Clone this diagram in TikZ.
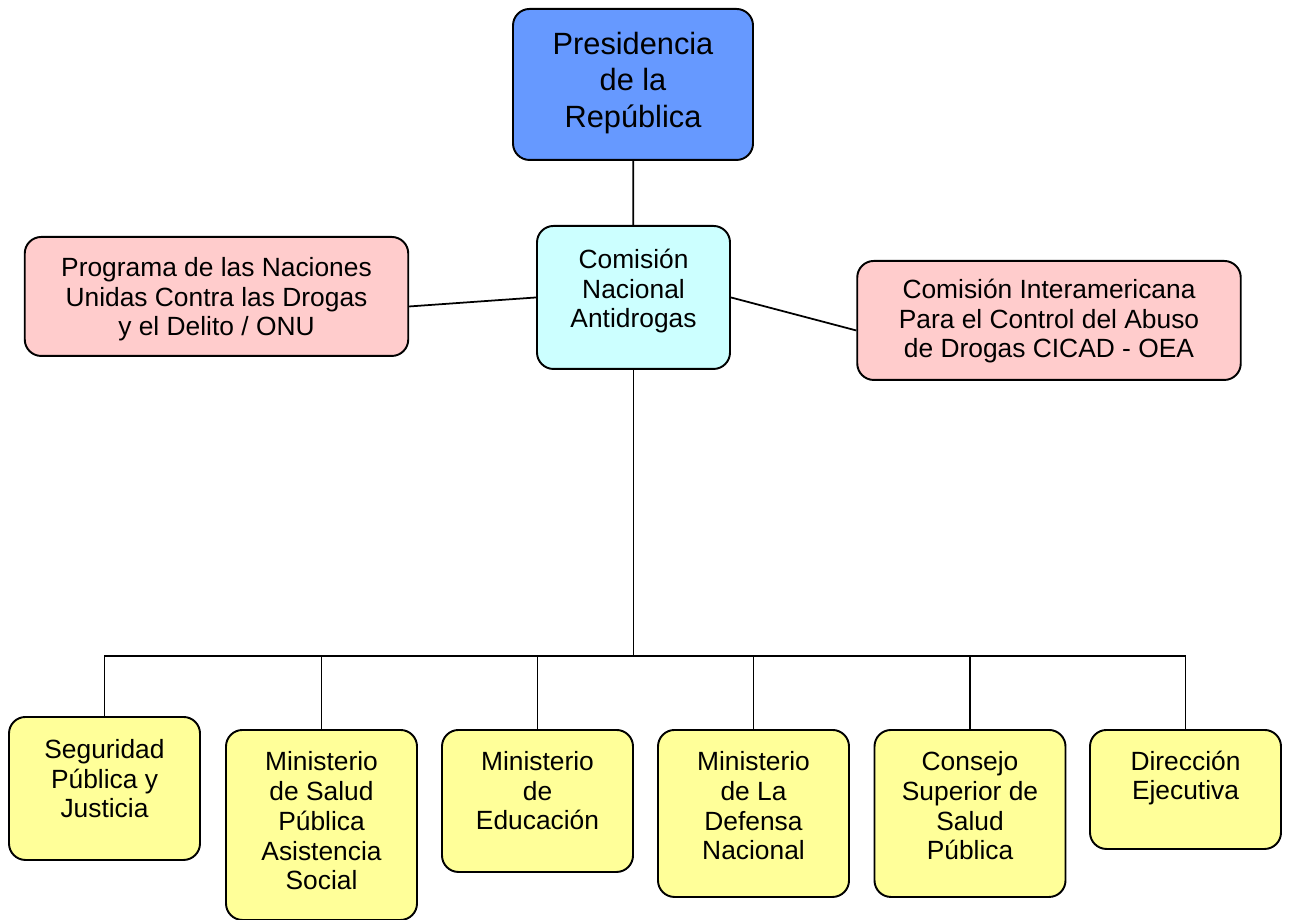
\documentclass[tikz,border=0pt]{standalone}
\usepackage{fontspec}
\setmainfont{Liberation Sans}
\usepackage{tikz}
\usetikzlibrary{positioning,calc}
\definecolor{presfill}{HTML}{6699FF}
\definecolor{cnafill}{HTML}{CCFFFF}
\definecolor{intfill}{HTML}{FFCCCC}
\definecolor{minfill}{HTML}{FFFF99}
\definecolor{ink}{HTML}{000000}

\begin{document}
\begin{tikzpicture}[
  font=\fontsize{15}{17}\selectfont,
  box/.style={draw=ink,line width=1.1pt,rounded corners=0.33cm,align=center,anchor=north,inner ysep=0pt,inner xsep=2pt},
  pres/.style={box,fill=presfill,minimum width=4.8cm,font=\fontsize{17.5}{20.9}\selectfont},
  cna/.style={box,fill=cnafill,minimum width=3.86cm},
  intl/.style={box,fill=intfill,minimum width=7.67cm},
  min/.style={box,fill=minfill,minimum width=3.82cm},
  link/.style={draw=ink,line width=1pt}]
  \useasboundingbox (0,0) rectangle (25.78,-18.4);
  \node[pres,text height=2.37cm,text depth=0.65cm] (rep) at (12.66,-0.16) {Presidencia\\de la\\República};
  \node[cna,text height=2.04cm,text depth=0.82cm] (cna) at (12.67,-4.5) {Comisión\\Nacional\\Antidrogas};
  \node[intl,text height=1.98cm,text depth=0.40cm] (onu) at (4.33,-4.72) {Programa de las Naciones\\Unidas Contra las Drogas\\y el Delito / ONU};
  \node[intl,text height=1.94cm,text depth=0.44cm] (cicad) at (20.98,-5.2) {Comisión Interamericana\\Para el Control del Abuso\\de Drogas CICAD - OEA};
  \node[min,text height=2.02cm,text depth=0.84cm] (seg) at (2.09,-14.32) {Seguridad\\Pública y\\Justicia};
  \node[min,text height=3.2cm,text depth=0.6cm] (salud) at (6.43,-14.58) {Ministerio\\de Salud\\Pública\\Asistencia\\Social};
  \node[min,text height=2.0cm,text depth=0.84cm] (edu) at (10.75,-14.58) {Ministerio\\de\\Educación};
  \node[min,text height=2.6cm,text depth=0.74cm] (def) at (15.07,-14.58) {Ministerio\\de La\\Defensa\\Nacional};
  \node[min,text height=2.6cm,text depth=0.74cm] (consejo) at (19.40,-14.58) {Consejo\\Superior de\\Salud\\Pública};
  \node[min,text height=1.4cm,text depth=0.98cm] (dir) at (23.71,-14.58) {Dirección\\Ejecutiva};
  \coordinate (bus) at (12.67,-13.12);
  \draw[link] (rep) -- (cna);
  \draw[link] ([yshift=-0.2cm]onu.east) -- (cna.west);
  \draw[link] (cna.east) -- ([yshift=-0.2cm]cicad.west);
  \draw[link] (cna) -- (bus);
  \draw[link] (seg.north) |- (bus) -| (dir.north);
  \draw[link] (salud.north) -- (salud.north |- bus);
  \draw[link] (edu.north) -- (edu.north |- bus);
  \draw[link] (def.north) -- (def.north |- bus);
  \draw[link] (consejo.north) -- (consejo.north |- bus);
\end{tikzpicture}
\end{document}
